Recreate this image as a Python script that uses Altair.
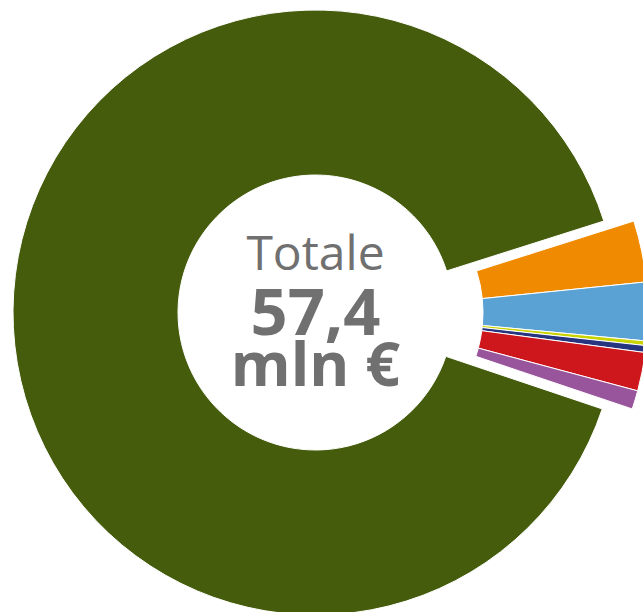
import math
import altair as alt
import pandas as pd

# ---- data ----
categories = ["Voce A", "Voce B", "Voce C", "Voce D", "Voce E", "Voce F", "Voce G"]
values = [1.88, 1.79, 0.14, 0.21, 1.18, 0.57, 51.63]   # mln €
colors = ["#F08A00", "#5BA2D4", "#C9D300", "#27347F", "#CE171C", "#99559C", "#445C0C"]
exploded = [True, True, True, True, True, True, False]
center_lines = ["Totale", "57,4", "mln €"]

start_angle = math.radians(72.4)

df = pd.DataFrame({
    "category": categories,
    "value": values,
    "exploded": exploded,
    "order": list(range(len(categories))),
})

color_scale = alt.Scale(domain=categories, range=colors)
theta_scale = alt.Scale(range=[start_angle, start_angle + 2 * math.pi])


def ring(cx, show_exploded):
    cond = "datum.exploded" if show_exploded else "!datum.exploded"
    return (
        alt.Chart(df)
        .mark_arc(innerRadius=137.5, outerRadius=302.5, stroke="white", strokeWidth=1)
        .encode(
            theta=alt.Theta("value:Q", stack=True, scale=theta_scale),
            order=alt.Order("order:Q"),
            x=alt.value(cx),
            y=alt.value(312.5),
            color=alt.Color("category:N", scale=color_scale, legend=None),
            opacity=alt.condition(cond, alt.value(1), alt.value(0)),
        )
    )


main_ring = ring(315.5, False)
exploded_ring = ring(345.5, True)

font = "Open Sans"
gray = "#707070"


def line(txt, y, size, weight):
    return (
        alt.Chart(pd.DataFrame({"t": [txt]}))
        .mark_text(font=font, fontSize=size, fontWeight=weight, color=gray,
                   align="center", baseline="alphabetic")
        .encode(text="t:N", x=alt.value(315.5), y=alt.value(y))
    )


t1 = line(center_lines[0], 270, 48, "normal")
t2 = line(center_lines[1], 335, 65, "bold")
t3 = line(center_lines[2], 386, 61, "bold")

chart = (
    alt.layer(main_ring, exploded_ring, t1, t2, t3)
    .properties(width=643, height=612, autosize=alt.AutoSizeParams(type="none"), padding=0)
    .configure_view(stroke=None)
)

chart.save("out.html", embed_options={"renderer": "svg", "actions": False})
